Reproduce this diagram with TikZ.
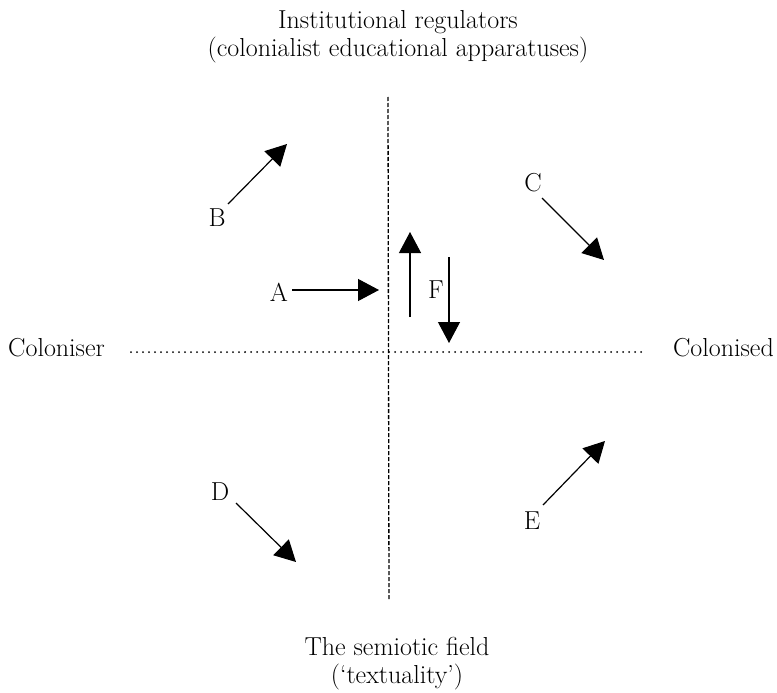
\documentclass[tikz,border=0pt]{standalone}
\usetikzlibrary{arrows.meta}
\begin{document}
\begin{tikzpicture}[x=1pt,y=-1pt,
  txt/.style={font=\fontsize{26}{29}\selectfont, inner sep=0pt},
  lbl/.style={font=\fontsize{26}{29}\selectfont, inner sep=0pt},
  arr/.style={line width=1.2pt, -{Triangle[length=21pt,width=22pt]}},
  axisv/.style={line width=1.3pt, dash pattern=on 4pt off 2pt},
  axish/.style={line width=2pt, line cap=round, dash pattern=on 0pt off 6pt}]
\useasboundingbox (0,0) rectangle (777,693);
% texts
\node[txt, anchor=base] (t1) at (398,29) {Institutional regulators};
\node[txt, anchor=base] (t2) at (398,57) {(colonialist educational apparatuses)};
\node[txt, anchor=base] (b1) at (397,655) {The semiotic field};
\node[txt, anchor=base] (b2) at (397,683) {(`textuality')};
\node[txt, anchor=base west] (left) at (8,356) {Coloniser};
\node[txt, anchor=base east] (right) at (774,356) {Colonised};
% axes
\coordinate (vtop) at (388,97);
\coordinate (vbot) at (389,600);
\coordinate (hl) at (131,352);
\coordinate (hr) at (643,352);
\draw[axisv] (vtop) -- (vbot);
\draw[axish] (hl) -- (hr);
% labels
\node[lbl] (A) at (279,292) {A};
\node[lbl] (B) at (217,218) {B};
\node[lbl] (C) at (533,183) {C};
\node[lbl] (D) at (220,492) {D};
\node[lbl] (E) at (532,521) {E};
\node[lbl] (F) at (436,290) {F};
% arrow ends
\coordinate (a0) at (292,290); \coordinate (a1) at (379,290);
\coordinate (b0) at (228,204); \coordinate (b1e) at (287,144);
\coordinate (c0) at (542,198); \coordinate (c1) at (604,260);
\coordinate (d0) at (236,503); \coordinate (d1) at (296,562);
\coordinate (e0) at (543,505); \coordinate (e1) at (605,441);
\coordinate (u0) at (410,317); \coordinate (u1) at (410,232);
\coordinate (f0) at (449,257); \coordinate (f1) at (449,343);
\draw[arr] (a0) -- (a1);
\draw[arr] (b0) -- (b1e);
\draw[arr] (c0) -- (c1);
\draw[arr] (d0) -- (d1);
\draw[arr] (e0) -- (e1);
\draw[arr] (u0) -- (u1);
\draw[arr] (f0) -- (f1);
\end{tikzpicture}
\end{document}
